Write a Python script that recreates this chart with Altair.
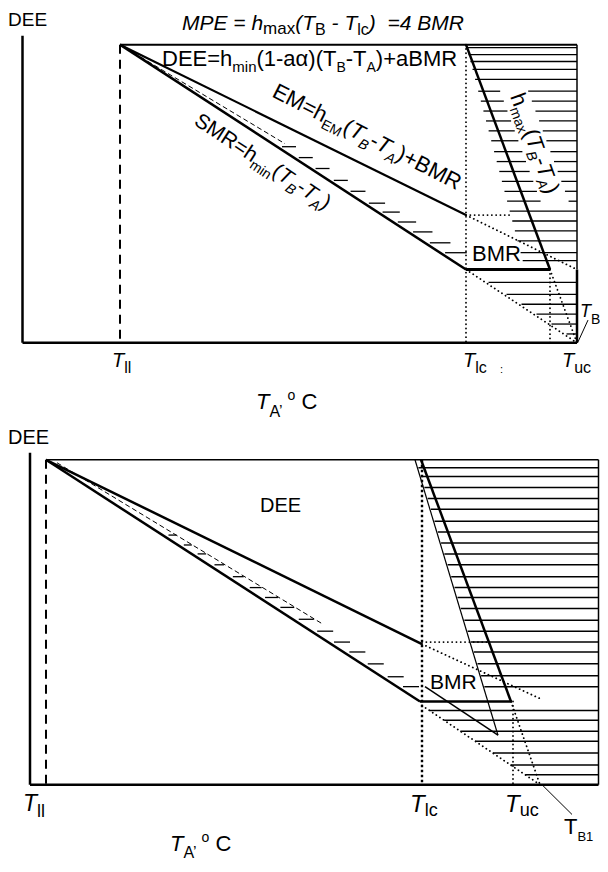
import math
import altair as alt
import pandas as pd

# ================= top panel : key temperatures (x) and energy levels (y) =================
t_axis_x, t_axis_top, t_base = 22.5, 36, 346
t_Tll, t_Tlc, t_Tuc, t_TB = 120, 466, 550, 577
t_top, t_EM_end, t_BMR = 45, 217, 272
t_dee_end = (285, 145)
t_rows_right = [48, 55, 62, 70, 80, 92, 102, 112, 122, 132, 142, 153, 163, 173, 183, 193,
                203, 213, 223, 233, 243, 255, 263]
t_rows_low = [285, 297, 307, 317, 327, 337]
t_rows_smr = [148, 159, 170, 182, 193, 205, 214, 224, 234, 245, 255]

# ================= bottom panel =================
b_axis_x, b_axis_top, b_base = 30, 457, 792
b_Tll, b_Tlc, b_Tuc, b_TB1, b_right = 46, 422, 513, 540, 598.5
b_top, b_EM_end, b_BMR = 464, 650, 708
b_hmax_end = 511
b_thin_end = (498, 742)
b_v_start = (425, 693)
b_dee_start, b_dee_end = (57, 467), (323, 630)
b_rows_right = [472, 481, 492, 503, 514, 526, 537, 548, 559, 570, 582, 593, 603, 614, 626,
                637, 648, 658, 670, 682, 693]
b_rows_low = [717, 727, 738, 748, 760, 772, 782]
b_rows_smr = [540, 550, 559, 570, 582, 593, 603, 613, 625, 637, 648, 658, 670, 683, 693]


def xat(p0, p1, y):
    return p0[0] + (y - p0[1]) * (p1[0] - p0[0]) / (p1[1] - p0[1])


segs = {"solid": [], "dash": [], "fdash": [], "dot": [], "bdot": []}


def S(kind, x1, y1, x2, y2, w):
    segs[kind].append(dict(x=x1, y=y1, x2=x2, y2=y2, w=w))


# ---------- top panel lines ----------
S("solid", t_axis_x, t_axis_top, t_axis_x, t_base, 2.5)
S("solid", t_axis_x, t_base, t_TB, t_base, 2.5)
S("solid", t_Tll, t_top, t_TB, t_top, 2)
S("solid", t_TB, t_top, t_TB, t_BMR, 1.5)
S("solid", t_TB, t_BMR, t_TB, t_base, 2.5)
t_smr = ((t_Tll, t_top), (t_Tlc, t_BMR))
t_em = ((t_Tll, t_top), (t_Tlc, t_EM_end))
t_hmax = ((t_Tlc, t_top), (t_Tuc, t_BMR))
S("solid", *t_smr[0], *t_smr[1], 2.5)
S("solid", *t_em[0], *t_em[1], 2.2)
S("solid", *t_hmax[0], *t_hmax[1], 2.5)
S("solid", t_Tlc, t_BMR, t_Tuc, t_BMR, 3)
S("solid", 588, 323, t_TB + 1, t_base - 1, 1)
S("dash", t_Tll, t_top, t_Tll, t_base, 2)
S("fdash", t_Tll, t_top, t_dee_end[0], t_dee_end[1], 1)
S("dot", t_Tlc, t_top, t_Tlc, t_base, 1.8)
S("dot", t_Tuc, t_BMR, t_Tuc, t_base, 1.8)
S("dot", t_Tlc, t_EM_end, 512, t_EM_end, 1.8)
S("dot", t_Tlc, t_EM_end, t_TB, t_BMR, 1.8)
S("dot", t_Tlc, t_BMR, t_TB, t_base, 1.8)
S("dot", t_Tuc, t_BMR, t_TB, t_base, 1.8)

# label band of h_max(T_B-T_A) interrupts the hatching
hm_org, hm_ang = (510, 97), 70
for y in t_rows_right:
    x0 = t_Tlc + 0.26 * (y - t_top)
    if 88 <= y <= 205:
        base = hm_org[0] + (y - hm_org[1]) / math.tan(math.radians(hm_ang))
        S("solid", x0, y, base - 8, y, 1.3)
        S("solid", base + 20, y, t_TB, y, 1.3)
    else:
        S("solid", x0, y, t_TB, y, 1.3)
for y in t_rows_low:
    x0 = xat((t_Tlc, t_BMR), (t_TB, t_base), y) + 3
    S("solid", x0, y, t_TB, y, 1.3)
for y in t_rows_smr:
    x0 = xat(*t_smr, y) + 5
    S("solid", x0, y, x0 + 14 + max(0, y - 185) * 0.11, y, 1.3)

# ---------- bottom panel lines ----------
S("solid", b_axis_x, b_axis_top, b_axis_x, b_base, 2.5)
S("solid", b_axis_x, b_base, b_right, b_base, 2.5)
S("solid", b_Tll, b_top, b_right, b_top, 1.5)
S("solid", b_right, b_top, b_right, b_base, 1.5)
b_smr = ((b_Tll, b_top), (420, b_BMR))
b_em = ((b_Tll, b_top), (b_Tlc, b_EM_end))
S("solid", *b_smr[0], *b_smr[1], 2.5)
S("solid", *b_em[0], *b_em[1], 2.5)
S("solid", 421, b_top, b_hmax_end, b_BMR, 2.5)
S("solid", 415, b_top, b_thin_end[0], b_thin_end[1], 1.2)
S("solid", b_v_start[0], b_v_start[1], b_thin_end[0], b_thin_end[1], 1.5)
S("solid", 420, b_BMR, 512, b_BMR, 2.5)
S("solid", b_TB1 + 3, b_base + 1, 572, 822, 1)
S("dash", b_Tll, b_top, b_Tll, b_base, 2)
S("fdash", b_dee_start[0], b_dee_start[1], b_dee_end[0], b_dee_end[1], 1)
S("bdot", b_Tlc, b_top, b_Tlc, b_base, 2.4)
S("dot", b_Tuc, b_BMR, b_Tuc, b_base, 1.8)
S("dot", b_Tlc, b_EM_end - 2, 487, b_EM_end - 2, 1.8)
S("dot", b_Tlc, b_EM_end, b_TB1, 705, 1.8)
S("dot", b_Tlc, b_BMR + 4, b_TB1, b_base, 1.8)
S("dot", b_hmax_end, b_BMR, b_TB1, b_base, 1.8)

for y in b_rows_right:
    x0 = xat((415, b_top), b_thin_end, y) + 1
    S("solid", x0, y, b_right, y, 1.5)
for y in b_rows_low:
    x0 = xat((b_Tlc, b_BMR + 4), (b_TB1, b_base), y)
    S("solid", x0, y, b_right, y, 1.5)
for y in b_rows_smr:
    x0 = xat(*b_smr, y) + 6
    if y <= b_dee_end[1]:
        x1 = max(x0 + 8, xat(b_dee_start, b_dee_end, y) - 1)
    else:
        x1 = x0 + 16
    S("solid", x0, y, x1, y, 1.3)

# ================= text =================
CW = {' ': 278, '(': 333, ')': 333, '+': 584, ',': 278, '-': 333, '=': 584, '1': 556,
      '4': 556, ':': 278, 'A': 667, 'B': 667, 'C': 722, 'D': 722, 'E': 667, 'M': 833,
      'P': 667, 'R': 722, 'S': 667, 'T': 611, 'a': 556, 'c': 500, 'h': 556, 'i': 222,
      'l': 222, 'm': 833, 'n': 556, 'o': 556, 'u': 556, 'x': 500, 'α': 578, '’': 222}


def tw(s, size):
    return sum(CW.get(c, 556) for c in s) * size / 1000.0


texts = []


def label(x0, y0, angle, runs):
    th = math.radians(angle)
    ux, uy = math.cos(th), math.sin(th)
    dx, dy = -math.sin(th), math.cos(th)
    off = 0.0
    for txt, size, shift, style in runs:
        lead = len(txt) - len(txt.lstrip(' '))
        o = off + lead * 278 * size / 1000.0
        if txt.strip():
            texts.append(dict(x=x0 + o * ux + shift * dx, y=y0 + o * uy + shift * dy,
                              text=txt.strip(), size=size, angle=angle % 360, style=style))
        off += tw(txt, size)


N, I = "normal", "italic"
# top panel
label(8, 26, 0, [("DEE", 19, 0, N)])
label(182, 30, 0, [("MPE = h", 21, 0, I), ("max", 17, 4, N), ("(", 21, 0, I), ("T", 21, 0, I),
                   ("B", 16, 5, N), (" - ", 21, 0, I), ("T", 21, 0, I), ("lc", 16, 5, N),
                   (")", 21, 0, I), (" ", 21, 0, I), (" =4 ", 21, 0, I), ("BMR", 21, 0, I)])
label(162, 67, 0, [("DEE=h", 22, 0, N), ("min", 15, 6, N), ("(1-aα)(T", 22, 0, N), ("B", 14, 6, N),
                   ("-T", 22, 0, N), ("A", 14, 6, N), (")+aBMR", 22, 0, N)])
label(271, 97, 27, [("EM=h", 22, 0, N), ("EM", 14, 6, N), ("(", 22, 0, N), ("T", 22, 0, I),
                    ("B", 14, 6, I), ("-", 22, 0, N), ("T", 22, 0, I), ("A", 14, 6, I),
                    (")+BMR", 22, 0, N)])
label(193, 125, 33.3, [("SMR=h", 21, 0, N), ("min", 14, 6, N), ("(", 21, 0, N), ("T", 21, 0, I),
                       ("B", 14, 6, I), ("-", 21, 0, N), ("T", 21, 0, I), ("A", 14, 6, I),
                       (")", 21, 0, N)])
label(hm_org[0], hm_org[1], hm_ang, [("h", 22, 0, N), ("max", 14, 5, N), ("(", 22, 0, N),
                                     ("T", 22, 0, I), ("B", 14, 5, I), ("-", 22, 0, N),
                                     ("T", 22, 0, I), ("A", 14, 5, I), (")", 22, 0, N)])
label(472, 263, 0, [("BMR", 22, 0, N)])
label(t_Tll - 8, 370, 0, [("T", 20, 0, I), ("ll", 16, 6, N)])
label(t_Tlc - 3, 370, 0, [("T", 20, 0, I), ("lc", 16, 6, N)])
label(t_Tuc + 12, 370, 0, [("T", 20, 0, I), ("uc", 16, 6, N)])
label(500, 376, 0, [(":", 11, 0, N)])
label(580, 320, 0, [("T", 18, 0, I), ("B", 14, 7, N)])
label(256, 413, 0, [("T", 22, 0, I), ("A’", 16, 8, N), (" ", 14, 0, N), ("o", 14, -9, N),
                    (" ", 22, 0, N), ("C", 22, 0, N)])
# bottom panel
label(8, 448, 0, [("DEE", 20, 0, N)])
label(260, 517, 0, [("DEE", 20, 0, N)])
label(430, 695, 0, [("BMR", 21, 0, N)])
label(23, 819, 0, [("T", 23, 0, I), ("ll", 18, 6, N)])
label(b_Tlc - 12, 820, 0, [("T", 24, 0, I), ("lc", 18, 4, N)])
label(b_Tuc - 8, 820, 0, [("T", 24, 0, I), ("uc", 18, 4, N)])
label(564, 842, 0, [("T", 22, 0, N), ("B1", 13, 7, N)])
label(170, 859, 0, [("T", 22, 0, I), ("A’", 16, 7, N), (" ", 14, 0, N), ("o", 14, -9, N),
                    (" ", 22, 0, N), ("C", 22, 0, N)])

# ================= chart =================
X = alt.X("x:Q", scale=alt.Scale(domain=[8, 600], nice=False, zero=False), axis=None)
Y = alt.Y("y:Q", scale=alt.Scale(domain=[8, 872], nice=False, zero=False, reverse=True), axis=None)

dash_styles = {"solid": None, "dash": [9, 6], "fdash": [5, 3], "dot": [0.1, 4.2], "bdot": [2.5, 2.5]}
layers = []
for kind, rows in segs.items():
    if not rows:
        continue
    kw = dict(color="black")
    if dash_styles[kind] is not None:
        kw["strokeDash"] = dash_styles[kind]
    if kind == "dot":
        kw["strokeCap"] = "round"
    layers.append(
        alt.Chart(pd.DataFrame(rows)).mark_rule(**kw).encode(
            x=X, y=Y, x2="x2:Q", y2="y2:Q",
            strokeWidth=alt.StrokeWidth("w:Q", scale=None))
    )

tdf = pd.DataFrame(texts)
for style in ["normal", "italic"]:
    sub = tdf[tdf["style"] == style]
    layers.append(
        alt.Chart(sub).mark_text(align="left", baseline="alphabetic", font="Liberation Sans",
                                 fontStyle=style, color="black").encode(
            x=X, y=Y, text="text:N",
            size=alt.Size("size:Q", scale=None),
            angle=alt.Angle("angle:Q", scale=None))
    )

chart = alt.layer(*layers).properties(
    width=592, height=856, padding=0, autosize=alt.AutoSizeParams(type="none")
).configure_view(stroke=None)

chart.save("out.html", embed_options={"renderer": "svg", "actions": False})
